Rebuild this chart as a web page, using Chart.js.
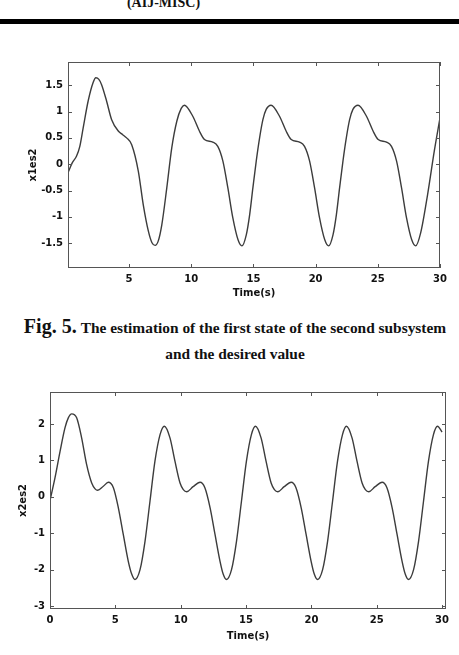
<!DOCTYPE html>
<html>
<head>
<meta charset="utf-8">
<script src="https://cdn.jsdelivr.net/npm/chart.js@4.4.1/dist/chart.umd.min.js"></script>
<style>
  html, body { margin: 0; padding: 0; background: #fff; }
  body { width: 459px; height: 655px; position: relative; overflow: hidden; }
  .hdr { position: absolute; left: 0; width: 459px; top: -4px; text-align: center;
         font: bold 14px/14px "Liberation Serif", serif; color: #111; padding-right: 132px; box-sizing: border-box; }
  .rule { position: absolute; left: 0; top: 19px; width: 459px; height: 5px; background: #000; }
  .cap { position: absolute; left: 0; width: 459px; padding-left: 11px; box-sizing: border-box;
         text-align: center; white-space: nowrap; color: #111; font-family: "Liberation Serif", serif; }
  .cap b { font-size: 15.4px; }
  .fig { font-size: 20px; font-weight: bold; }
  canvas { position: absolute; left: 0; }
</style>
</head>
<body>
<div class="hdr">(AIJ-MISC)</div>
<div class="rule"></div>
<canvas id="c1" width="459" height="260" style="top:50px"></canvas>
<div class="cap" style="top:316px; line-height:20px"><span class="fig">Fig. 5.</span> <b>The estimation of the first state of the second subsystem</b></div>
<div class="cap" style="top:344px; line-height:20px"><b>and the desired value</b></div>
<canvas id="c2" width="459" height="275" style="top:380px"></canvas>
<script>
// first plot: x1es2 against time
const time1 = [0.1, 0.45, 0.78, 1.05, 1.32, 1.72, 2.12, 2.34, 2.58, 2.8, 3.2, 3.6, 4.14, 4.5, 4.81, 5.22, 5.75, 6.15, 6.56, 6.85,
  7.1, 7.35, 7.64, 8.04, 8.44, 8.85, 9.2, 9.45, 10.13, 10.66, 11.07, 11.74, 12.14, 12.55, 12.95, 13.35, 13.76,
  14.08, 14.43, 14.7, 14.96, 15.23, 15.5, 15.77, 16.03, 16.42, 17.1, 17.63, 18.04, 18.71, 19.11, 19.52, 19.92, 20.32, 20.73,
  21.05, 21.4, 21.67, 21.93, 22.2, 22.47, 22.74, 23.0, 23.41, 24.09, 24.62, 25.03, 25.7, 26.1, 26.51, 26.91, 27.31, 27.72,
  28.05, 28.45, 29.0, 29.54, 30.0];
const x1es2 = [-0.16, 0.03, 0.15, 0.34, 0.69, 1.2, 1.55, 1.64, 1.61, 1.51, 1.2, 0.85, 0.63, 0.56, 0.5, 0.37, -0.13, -0.77, -1.27, -1.49,
  -1.54, -1.46, -1.15, -0.45, 0.31, 0.82, 1.06, 1.12, 0.91, 0.63, 0.47, 0.42, 0.34, 0.06, -0.45, -1.02, -1.43,
  -1.55, -1.34, -0.96, -0.45, 0.06, 0.5, 0.85, 1.04, 1.12, 0.91, 0.63, 0.47, 0.42, 0.34, 0.06, -0.45, -1.02, -1.43,
  -1.55, -1.34, -0.96, -0.45, 0.06, 0.5, 0.85, 1.04, 1.12, 0.91, 0.63, 0.47, 0.42, 0.34, 0.06, -0.45, -1.02, -1.43,
  -1.55, -1.3, -0.58, 0.25, 0.88];
const xTicks1 = [5, 10, 15, 20, 25, 30];
const yTicks1 = [-1.5, -1, -0.5, 0, 0.5, 1, 1.5];

// second plot: x2es2 against time
const time2 = [0, 0.38, 0.77, 1.15, 1.4, 1.66, 2.04, 2.42, 2.8, 3.19, 3.45, 3.65, 4.08, 4.46, 4.85, 5.23, 5.61, 5.99, 6.25, 6.5,
  6.89, 7.27, 7.65, 8.03, 8.42, 8.75, 9.18, 9.56, 9.95, 10.2, 10.46, 10.95, 11.48, 11.85, 12.25, 12.63, 13.01, 13.25, 13.5,
  13.89, 14.27, 14.65, 15.03, 15.41, 15.72, 16.15, 16.53, 16.92, 17.17, 17.43, 17.92, 18.45, 18.82, 19.22, 19.6, 19.98, 20.22, 20.47,
  20.86, 21.24, 21.62, 22.0, 22.38, 22.68, 23.11, 23.49, 23.88, 24.13, 24.39, 24.88, 25.41, 25.78, 26.18, 26.56, 26.94, 27.18, 27.43,
  27.82, 28.2, 28.58, 28.96, 29.34, 29.65, 30.0];
const x2es2 = [-0.1, 0.52, 1.25, 1.9, 2.17, 2.28, 2.17, 1.62, 0.89, 0.38, 0.22, 0.18, 0.29, 0.4, 0.25, -0.3, -1.04, -1.77, -2.12, -2.27,
  -2.0, -1.22, -0.12, 0.98, 1.71, 1.94, 1.62, 0.98, 0.38, 0.2, 0.14, 0.28, 0.4, 0.25, -0.3, -1.04, -1.77, -2.12, -2.27,
  -2.0, -1.22, -0.12, 0.98, 1.71, 1.94, 1.62, 0.98, 0.38, 0.2, 0.14, 0.28, 0.4, 0.25, -0.3, -1.04, -1.77, -2.12, -2.27,
  -2.0, -1.22, -0.12, 0.98, 1.71, 1.94, 1.62, 0.98, 0.38, 0.2, 0.14, 0.28, 0.4, 0.25, -0.3, -1.04, -1.77, -2.12, -2.27,
  -2.0, -1.22, -0.12, 0.98, 1.71, 1.94, 1.78];
const xTicks2 = [0, 5, 10, 15, 20, 25, 30];
const yTicks2 = [-3, -2, -1, 0, 1, 2];

const tickFont = { family: 'DejaVu Sans', weight: 'bold', size: 10 };
const axisColor = '#555';

// box around the plot with short ticks pointing inward, like matlab
const matlabFrame = {
  id: 'matlabFrame',
  afterDatasetsDraw(chart) {
    const { ctx, chartArea: a, scales: { x, y } } = chart;
    ctx.save();
    ctx.strokeStyle = axisColor;
    ctx.lineWidth = 1;
    ctx.strokeRect(a.left + 0.5, a.top + 0.5, a.right - a.left - 1, a.bottom - a.top - 1);
    ctx.beginPath();
    x.ticks.forEach(t => {
      const px = Math.round(x.getPixelForValue(t.value)) + 0.5;
      ctx.moveTo(px, a.bottom); ctx.lineTo(px, a.bottom - 4);
      ctx.moveTo(px, a.top); ctx.lineTo(px, a.top + 4);
    });
    y.ticks.forEach(t => {
      const py = Math.round(y.getPixelForValue(t.value)) + 0.5;
      ctx.moveTo(a.left, py); ctx.lineTo(a.left + 4, py);
      ctx.moveTo(a.right, py); ctx.lineTo(a.right - 4, py);
    });
    ctx.stroke();
    ctx.restore();
  }
};

function makeChart(id, t, v, cfg) {
  const points = t.map((tt, i) => ({ x: tt, y: v[i] }));
  return new Chart(document.getElementById(id), {
    type: 'line',
    data: {
      datasets: [{
        data: points,
        borderColor: '#3c3c3c',
        borderWidth: 1.4,
        pointRadius: 0,
        cubicInterpolationMode: 'monotone',
        fill: false
      }]
    },
    options: {
      responsive: false,
      animation: false,
      devicePixelRatio: 1,
      layout: { padding: { top: 12, right: cfg.padRight, left: 0, bottom: 0 } },
      plugins: { legend: { display: false }, tooltip: { enabled: false } },
      scales: {
        x: {
          type: 'linear',
          min: cfg.xMin, max: cfg.xMax,
          afterBuildTicks: s => { s.ticks = cfg.xTicks.map(value => ({ value })); },
          afterFit: s => { s.height = cfg.xAxisHeight; },
          grid: { display: false, drawTicks: false },
          border: { display: false },
          ticks: { font: tickFont, color: '#111', padding: 5, maxRotation: 0, callback: val => String(val) },
          title: { display: true, text: 'Time(s)', font: tickFont, color: '#111', padding: { top: 0, bottom: cfg.xTitlePad } }
        },
        y: {
          type: 'linear',
          min: cfg.yMin, max: cfg.yMax,
          afterBuildTicks: s => { s.ticks = cfg.yTicks.map(value => ({ value })); },
          afterFit: s => { s.width = cfg.yAxisWidth; },
          grid: { display: false, drawTicks: false },
          border: { display: false },
          ticks: { font: tickFont, color: '#111', padding: 5, callback: val => String(val) },
          title: { display: true, text: cfg.yTitle, font: tickFont, color: '#111', padding: { top: cfg.yTitlePad, bottom: 0 } }
        }
      }
    },
    plugins: [matlabFrame]
  });
}

makeChart('c1', time1, x1es2, {
  xMin: 0.1, xMax: 30, yMin: -1.97, yMax: 1.94,
  xTicks: xTicks1, yTicks: yTicks1, yTitle: 'x1es2',
  yAxisWidth: 68, xAxisHeight: 42, padRight: 19, xTitlePad: 11, yTitlePad: 27
});

makeChart('c2', time2, x2es2, {
  xMin: 0, xMax: 30.3, yMin: -3.08, yMax: 2.88,
  xTicks: xTicks2, yTicks: yTicks2, yTitle: 'x2es2',
  yAxisWidth: 50, xAxisHeight: 46, padRight: 13, xTitlePad: 13, yTitlePad: 17
});
</script>
</body>
</html>
